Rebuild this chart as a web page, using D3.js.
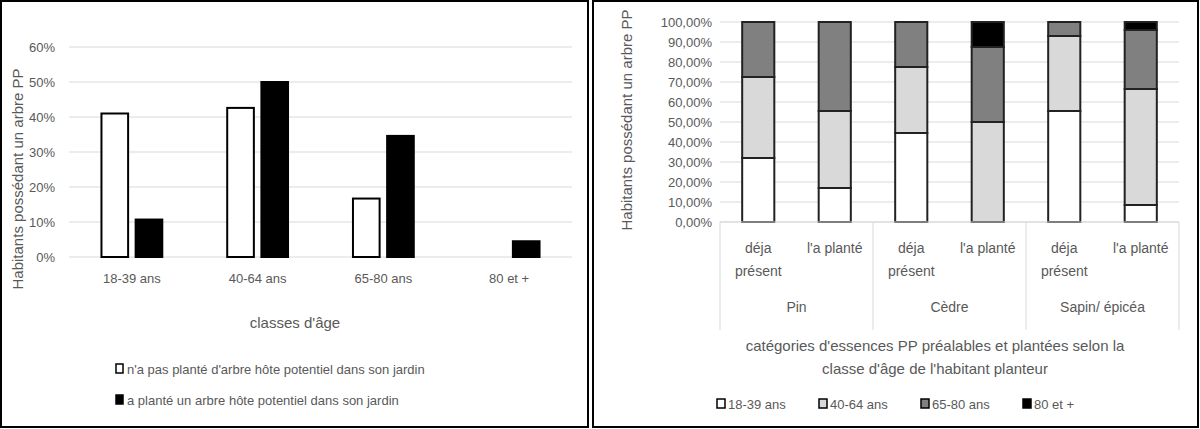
<!DOCTYPE html><html><head><meta charset="utf-8"><script src="https://cdn.jsdelivr.net/npm/d3@7"></script>
<style>body{margin:0;background:#fff}text{font-family:"Liberation Sans",Arial,sans-serif;fill:#595959}</style></head><body>
<svg id="c" width="1200" height="429"></svg>
<script>
const ageClasses=["18-39 ans","40-64 ans","65-80 ans","80 et +"];
const notPlanted=[0.41,0.426,0.167,0];
const planted=[0.107,0.50,0.346,0.045];
const leftTicks=[0,0.1,0.2,0.3,0.4,0.5,0.6];
const species=["Pin","Cèdre","Sapin/ épicéa"];
const status=["déja présent","l'a planté"];
const s1839=[0.32,0.17,0.445,0,0.555,0.085];
const s4064=[0.405,0.385,0.33,0.50,0.375,0.58];
const s6580=[0.275,0.445,0.225,0.375,0.07,0.295];
const s80=[0,0,0,0.125,0,0.04];
const rightTicks=d3.range(0,11).map(i=>i/10);
const svg=d3.select("#c");
svg.append("rect").attr("x",1).attr("y",1).attr("width",587).attr("height",426).attr("fill","none").attr("stroke","#000").attr("stroke-width",2);
svg.append("rect").attr("x",593).attr("y",1).attr("width",605).attr("height",426).attr("fill","none").attr("stroke","#000").attr("stroke-width",2);
// left
const x0=d3.scaleBand().domain(ageClasses).range([69,572]);
const x1=d3.scaleBand().domain([0,1]).range([0,x0.bandwidth()]).paddingInner(0.22).paddingOuter(0.95);
const y=d3.scaleLinear().domain([0,0.6]).range([257,47]);
const L=svg.append("g");
L.selectAll(".g").data(leftTicks).join("line").attr("x1",69).attr("x2",572).attr("y1",d=>y(d)).attr("y2",d=>y(d)).attr("stroke","#d9d9d9");
L.selectAll(".t").data(leftTicks).join("text").attr("x",55).attr("y",d=>y(d)+5).attr("text-anchor","end").attr("font-size",13).text(d=>d3.format(".0%")(d));
ageClasses.forEach((c,i)=>{
 [[notPlanted[i],"#fff"],[planted[i],"#000"]].forEach(([v,f],j)=>{
  if(v>0)L.append("rect").attr("x",x0(c)+x1(j)).attr("width",x1.bandwidth()).attr("y",y(v)).attr("height",y(0)-y(v)).attr("fill",f).attr("stroke","#000").attr("stroke-width",2);
 });
 L.append("text").attr("x",x0(c)+x0.bandwidth()/2).attr("y",283).attr("text-anchor","middle").attr("font-size",13).text(c);
});
L.append("text").attr("x",295).attr("y",328).attr("text-anchor","middle").attr("font-size",15).text("classes d'âge");
L.append("text").attr("transform","translate(23,179) rotate(-90)").attr("text-anchor","middle").attr("font-size",15).text("Habitants possédant un arbre PP");
[["n'a pas planté d'arbre hôte potentiel dans son jardin","#fff",374],["a planté un arbre hôte potentiel dans son jardin","#000",405]].forEach(([t,f,yy])=>{
 L.append("rect").attr("x",116).attr("y",yy-10).attr("width",7).attr("height",9).attr("fill",f).attr("stroke","#000").attr("stroke-width",1.5);
 L.append("text").attr("x",127).attr("y",yy).attr("font-size",13).text(t);
});
// right
const cats=[];species.forEach(s=>status.forEach(st=>cats.push(s+"|"+st)));
const xr=d3.scaleBand().domain(cats).range([720,1179]).paddingInner(0.58).paddingOuter(0.29);
const yr=d3.scaleLinear().domain([0,1]).range([222,22]);
const R=svg.append("g");
R.selectAll(".g").data(rightTicks).join("line").attr("x1",720).attr("x2",1179).attr("y1",d=>yr(d)).attr("y2",d=>yr(d)).attr("stroke","#d9d9d9");
R.selectAll(".t").data(rightTicks).join("text").attr("x",712).attr("y",d=>yr(d)+5).attr("text-anchor","end").attr("font-size",13).text(d=>d3.format(".2f")(d*100).replace(".",",")+"%");
const series=[[s1839,"#fff"],[s4064,"#d9d9d9"],[s6580,"#808080"],[s80,"#000"]];
cats.forEach((c,i)=>{
 let acc=0;
 series.forEach(([arr,f])=>{const v=arr[i];if(v>0){R.append("rect").attr("x",xr(c)).attr("width",xr.bandwidth()).attr("y",yr(acc+v)).attr("height",yr(acc)-yr(acc+v)).attr("fill",f).attr("stroke","#222").attr("stroke-width",2);}acc+=v;});
});
const gw=459/3;
R.append("line").attr("x1",720).attr("x2",1179).attr("y1",222).attr("y2",222).attr("stroke","#d9d9d9");
for(let k=0;k<=3;k++)R.append("line").attr("x1",720+k*gw).attr("x2",720+k*gw).attr("y1",222).attr("y2",330).attr("stroke","#d9d9d9");
cats.forEach(c=>{const cx=xr(c)+xr.bandwidth()/2;const st=c.split("|")[1];
 if(st==="déja présent"){R.append("text").attr("x",cx).attr("y",253).attr("text-anchor","middle").attr("font-size",14).text("déja");R.append("text").attr("x",cx).attr("y",276).attr("text-anchor","middle").attr("font-size",14).text("présent");}
 else R.append("text").attr("x",cx).attr("y",253).attr("text-anchor","middle").attr("font-size",14).text(st);});
species.forEach((s,k)=>R.append("text").attr("x",720+k*gw+gw/2).attr("y",312).attr("text-anchor","middle").attr("font-size",14).text(s));
R.append("text").attr("x",935).attr("y",351).attr("text-anchor","middle").attr("font-size",15).text("catégories d'essences PP préalables et plantées selon la");
R.append("text").attr("x",935).attr("y",374).attr("text-anchor","middle").attr("font-size",15).text("classe d'âge de l'habitant planteur");
R.append("text").attr("transform","translate(632,120) rotate(-90)").attr("text-anchor","middle").attr("font-size",15).text("Habitants possédant un arbre PP");
const lx=[717,819,921,1023];
ageClasses.forEach((a,i)=>{R.append("rect").attr("x",lx[i]).attr("y",399).attr("width",8).attr("height",9).attr("fill",series[i][1]).attr("stroke","#000").attr("stroke-width",1.5);
 R.append("text").attr("x",lx[i]+11).attr("y",409).attr("font-size",13).text(a);});
</script></body></html>
